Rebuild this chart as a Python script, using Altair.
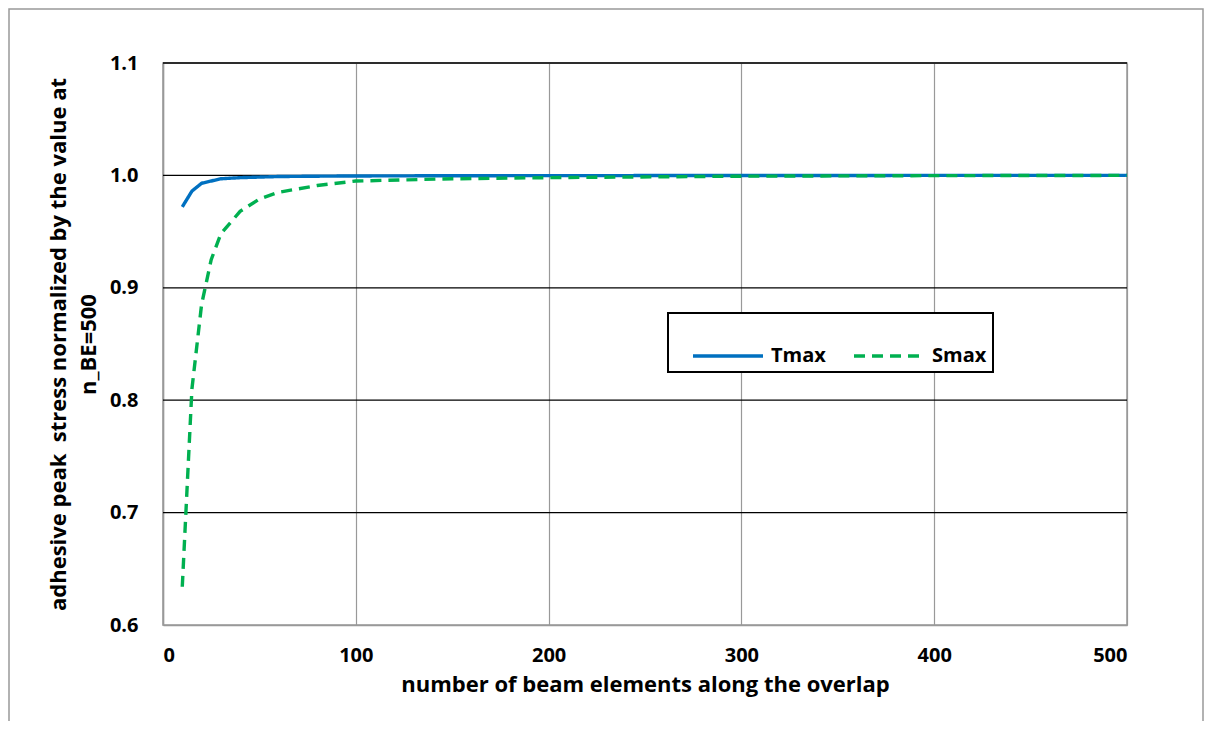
import altair as alt
import pandas as pd

n_t = [10, 15, 20, 30, 40, 50, 60, 80, 100, 150, 200, 300, 400, 500]
tmax = [0.972, 0.986, 0.993, 0.997, 0.998, 0.9985, 0.999, 0.9993, 0.9995, 0.9997, 0.9998, 0.9999, 1.0, 1.0]
n_s = [10, 15, 20, 25, 30, 40, 50, 60, 80, 100, 150, 200, 300, 400, 500]
smax = [0.634, 0.81, 0.885, 0.925, 0.948, 0.968, 0.979, 0.985, 0.991, 0.995, 0.997, 0.998, 0.9993, 0.9998, 1.0]
series = ["Tmax", "Smax"]
colors = ["#0070C0", "#00B050"]
hgrid = [0.7, 0.8, 0.9, 1.0, 1.1]
x_ticks = [0, 100, 200, 300, 400, 500]
y_ticks = [0.6, 0.7, 0.8, 0.9, 1.0, 1.1]

df = pd.concat([
    pd.DataFrame({"n": n_t, "v": tmax, "s": series[0]}),
    pd.DataFrame({"n": n_s, "v": smax, "s": series[1]}),
])

FONT = "Open Sans"

xs = alt.Scale(domain=[0, 500], nice=False)
ys = alt.Scale(domain=[0.6, 1.1], nice=False, zero=False)

grid = alt.Chart(pd.DataFrame({"g": hgrid})).mark_rule(color="black", strokeWidth=1.3).encode(
    y=alt.Y("g:Q", scale=ys)
)

leg = dict(title=None, orient="none", legendX=505, legendY=250,
           direction="horizontal", symbolType="stroke",
           symbolSize=4900, symbolStrokeWidth=3.4, symbolOffset=17,
           labelFontSize=20, labelFont=FONT, labelFontWeight="bold",
           labelColor="black", fillColor="white", strokeColor="black",
           padding=6, columnPadding=9, labelOffset=6)

lines = alt.Chart(df).mark_line(strokeWidth=3.4, clip=True).encode(
    x=alt.X("n:Q", scale=xs,
            axis=alt.Axis(values=x_ticks, title="number of beam elements along the overlap",
                          grid=True, gridColor="#999999", gridWidth=1.2,
                          domainColor="#999999", domainWidth=1.5, ticks=False,
                          labelPadding=20, titlePadding=9)),
    y=alt.Y("v:Q", scale=ys,
            axis=alt.Axis(values=y_ticks, format=".1f", grid=False,
                          title=["adhesive peak\u00a0 stress normalized by the value at", "n_BE=500"],
                          domainColor="#999999", domainWidth=1.5, ticks=False,
                          labelPadding=25, titlePadding=9, titleLineHeight=30)),
    color=alt.Color("s:N", scale=alt.Scale(domain=series, range=colors), legend=alt.Legend(**leg)),
    strokeDash=alt.StrokeDash("s:N", scale=alt.Scale(domain=series, range=[[1, 0], [11, 7]]),
                              legend=alt.Legend(**leg)),
)

border = alt.Chart(pd.DataFrame({"a": [0]})).mark_rect(
    fill=None, stroke="#999999", strokeWidth=1.5, clip=False
).encode(x=alt.value(-154), x2=alt.value(1040), y=alt.value(-54), y2=alt.value(680))

chart = alt.layer(border, grid, lines).properties(
    width=964, height=562,
    autosize=alt.AutoSizeParams(type="none"),
    padding={"left": 155, "top": 55, "right": 78, "bottom": 96},
).configure_view(stroke="#999999", strokeWidth=1.5).configure_axis(
    labelFont=FONT, labelFontSize=20, labelFontWeight="bold", labelColor="black",
    titleFont=FONT, titleFontSize=22, titleFontWeight="bold", titleColor="black",
).configure_legend(strokeWidth=2)

chart.save("out.html", embed_options={"renderer": "svg", "actions": False})
